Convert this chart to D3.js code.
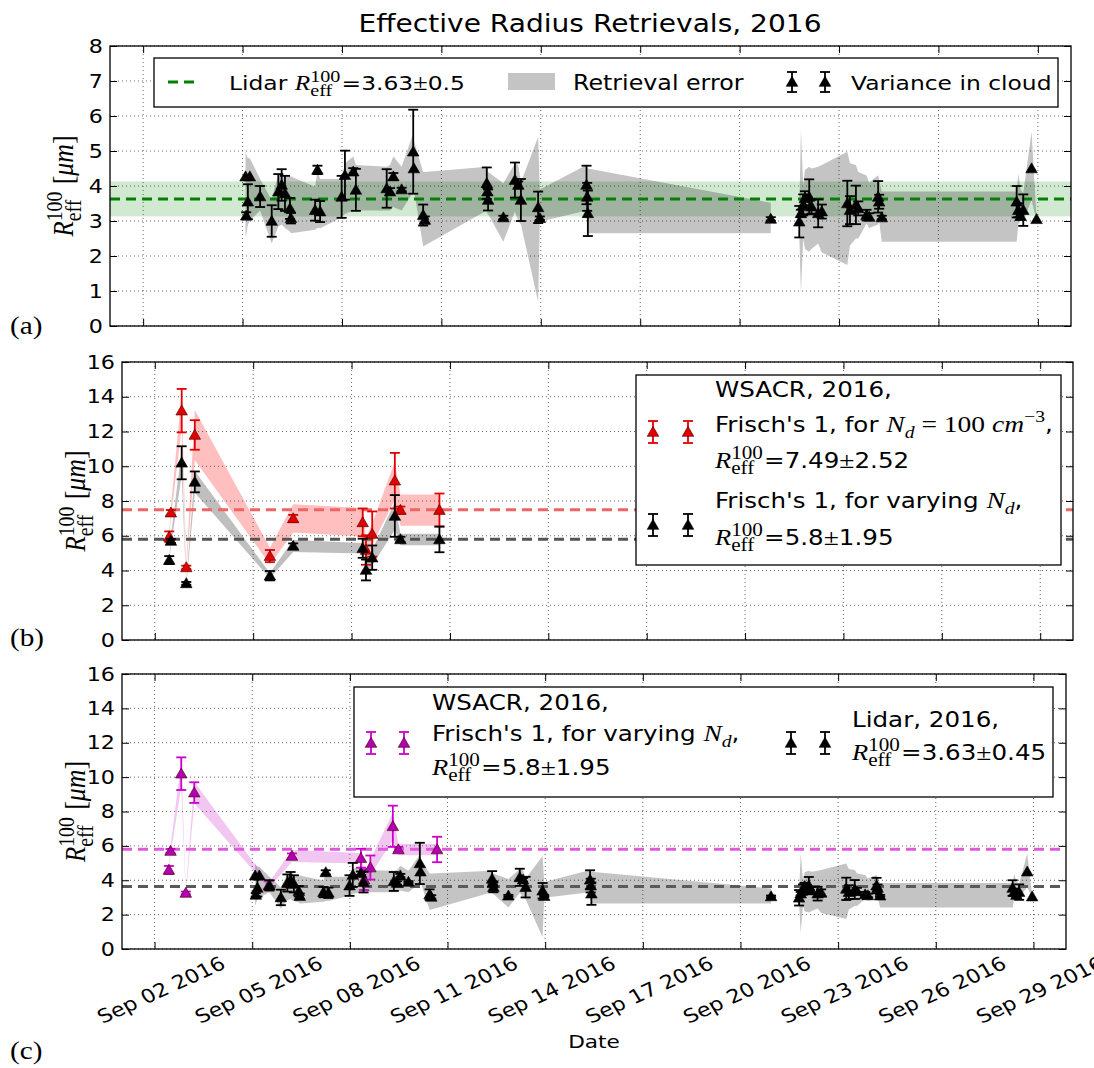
<!DOCTYPE html>
<html><head><meta charset="utf-8">
<script src="https://cdn.jsdelivr.net/npm/d3@7"></script>
<style>body{margin:0;background:#fff}</style>
</head><body>
<svg id="c" width="1094" height="1068"></svg>
<script>
// ---------------- DATA ----------------
const chartTitle = "Effective Radius Retrievals, 2016";
const xTickDays = [2, 5, 8, 11, 14, 17, 20, 23, 26, 29];
const xTickLabels = ["Sep 02 2016","Sep 05 2016","Sep 08 2016","Sep 11 2016","Sep 14 2016","Sep 17 2016","Sep 20 2016","Sep 23 2016","Sep 26 2016","Sep 29 2016"];
const panelLabels = ["(a)", "(b)", "(c)"];

// Lidar retrievals (day of Sep 2016, fractional)
const lidarDay   = [5.09,5.11,5.16,5.22,5.53,5.88,6.08,6.18,6.28,6.43,6.46,7.19,7.26,7.34,7.99,8.09,8.34,8.42,9.35,9.45,9.55,9.80,10.15,10.17,10.45,10.50,12.37,12.39,12.41,12.87,13.22,13.32,13.40,13.92,13.97,15.38,15.40,15.42,20.94,
                    21.80,21.85,21.92,21.97,22.10,22.17,22.37,22.48,23.25,23.33,23.51,23.58,23.83,23.91,24.18,24.21,24.29,28.36,28.41,28.48,28.56,28.81,28.96];
const lidarValue = [4.27,3.15,3.55,4.27,3.70,3.00,3.84,4.03,3.79,3.36,3.08,3.31,4.46,3.27,3.69,4.31,4.41,3.89,3.93,3.84,4.27,3.90,4.98,4.50,3.17,3.03,4.08,3.84,3.60,3.10,4.17,4.03,3.60,3.39,3.08,4.03,3.69,3.22,3.06,
                    2.98,3.22,3.46,3.65,3.69,3.41,3.22,3.27,3.50,3.31,3.46,3.36,3.17,3.12,3.69,3.55,3.10,3.55,3.31,3.14,3.31,4.50,3.05];
const lidarErr   = [0,0.10,0.50,0,0.30,0.45,0.50,0.45,0.50,0.30,0.15,0.30,0.12,0.30,0.60,0.70,0.10,0.60,0.55,0.10,0.10,0.05,1.20,0,0.30,0.10,0.45,0.10,0.30,0.05,0.50,0.10,0.60,0.45,0.05,0.55,0.40,0.65,0.05,
                    0.45,0.10,0.30,0.20,0.50,0.20,0.40,0.20,0.65,0.40,0.55,0.20,0.15,0.10,0.45,0.20,0.05,0.45,0.20,0.10,0.45,0,0];
const lidarBandLo = [2.55,2.60,2.90,3.00,3.30,2.36,2.84,2.90,2.80,2.70,2.65,2.75,2.80,2.79,3.10,3.20,3.30,3.30,3.30,3.30,3.40,3.30,3.83,3.90,2.27,2.30,3.30,3.20,3.20,2.41,3.27,3.00,2.90,0.69,2.98,3.30,2.65,2.65,2.65,
                    2.60,0.94,2.50,2.20,2.12,2.20,2.36,2.10,1.74,2.30,2.50,2.50,2.93,2.80,2.90,3.00,2.41,2.41,2.90,3.00,3.00,3.60,3.00];
const lidarBandHi = [5.03,4.90,4.80,4.79,4.20,3.60,4.36,4.30,4.30,4.30,4.27,3.98,4.46,4.20,4.20,4.65,4.84,4.60,4.55,4.60,4.84,4.55,5.50,5.30,4.40,4.40,4.55,4.50,4.40,4.08,4.65,4.60,4.10,5.41,3.90,4.60,4.55,4.50,3.52,
                    3.30,5.60,4.00,4.46,4.55,4.50,4.55,4.60,4.98,4.65,4.60,4.40,4.30,4.10,4.31,4.20,3.84,3.84,4.36,3.90,3.80,5.55,3.10];
const lidarBandSegment = [0,0,0,0,0,0,0,0,0,0,0,0,0,0,0,0,0,0,0,0,0,0,0,0,0,0,0,0,0,0,0,0,0,0,0,0,0,0,0,
                    1,1,1,1,1,1,1,1,1,1,1,1,1,1,1,1,1,1,1,1,1,1,1];
const lidarMean = 3.63, lidarStdA = 0.5, lidarStdC = 0.45;

// WSACR retrievals
const wsDay        = [2.44,2.49,2.82,2.96,3.22,5.51,6.22,8.34,8.44,8.63,9.32,9.49,10.68];
const wsFixedValue = [5.95,7.33,13.2,4.18,11.8,4.83,7.00,6.77,5.18,6.10,9.17,7.48,7.48];
const wsFixedErr   = [0.30,0.15,1.25,0.10,0.85,0.35,0.20,0.80,0.85,1.30,1.60,0.20,0.95];
const wsFixedBand  = [0.20,0.30,1.00,0.15,1.44,0.48,0.82,0.82,0.70,0.60,1.10,0.90,0.90];
const wsVaryValue  = [4.60,5.70,10.2,3.26,9.10,3.70,5.41,5.28,4.03,4.74,7.14,5.79,5.79];
const wsVaryErr    = [0.23,0.12,0.95,0.08,0.60,0.27,0.15,0.55,0.60,0.70,1.20,0.15,0.74];
const wsVaryBand   = [0.15,0.25,0.75,0.12,0.62,0.15,0.35,0.30,0.40,0.45,0.80,0.33,0.33];
const wsFixedMean = 7.49, wsFixedStd = 2.52, wsVaryMean = 5.8, wsVaryStd = 1.95;

// ---------------- DRAWING ----------------
const SANS = "DejaVu Sans", SERIF = "Liberation Serif";
const SX = 1.17; // horizontal stretch of the original figure's text
const svg = d3.select("#c");
const t0 = Date.UTC(2016, 8, 1);
const toDate = d => new Date(t0 + (d - 1) * 864e5);

const lidar = lidarDay.map((d, i) => ({d, v: lidarValue[i], e: lidarErr[i], lo: lidarBandLo[i], hi: lidarBandHi[i], s: lidarBandSegment[i]}));
const wsFixed = wsDay.map((d, i) => ({d, v: wsFixedValue[i], e: wsFixedErr[i], lo: wsFixedValue[i] - wsFixedBand[i], hi: wsFixedValue[i] + wsFixedBand[i], s: 0}));
const wsVary = wsDay.map((d, i) => ({d, v: wsVaryValue[i], e: wsVaryErr[i], lo: wsVaryValue[i] - wsVaryBand[i], hi: wsVaryValue[i] + wsVaryBand[i], s: 0}));

const layout = [
  {left: 110, right: 1071, top: 46, bottom: 326, yMax: 8, yStep: 1, labelY: 334},
  {left: 122, right: 1073, top: 362, bottom: 640, yMax: 16, yStep: 2, labelY: 646},
  {left: 122, right: 1066, top: 674, bottom: 949, yMax: 16, yStep: 2, labelY: 1059}
];

function stext(g, x, y, str, fs, opts = {}) {
  return g.append("text").attr("transform", `translate(${x},${y}) scale(${SX},1)`)
    .attr("font-family", opts.fam || SANS).attr("font-size", fs).attr("text-anchor", opts.anchor || "start")
    .attr("fill", "#000").text(str);
}

// math-ish text runner (unscaled local coordinates)
function mathLine(g, x, y, parts, fs, transform) {
  const grp = g.append("g");
  const inner = grp.append("g");
  let cx = 0;
  const add = (t, fam, style, size, dy, xx) => inner.append("text").attr("x", xx).attr("y", dy)
      .attr("font-family", fam).attr("font-style", style).attr("font-size", size).attr("fill", "#000")
      .style("white-space", "pre").text(t);
  for (const [t, k] of parts) {
    if (k === "R") {
      const r = add("R", SERIF, "italic", fs * 1.08, 0, cx);
      cx += r.node().getComputedTextLength();
      const sub = add("eff", SERIF, "normal", fs * 0.86, fs * 0.3, cx);
      const sup = add("100", SERIF, "normal", fs * 0.86, -fs * 0.42, cx);
      cx += Math.max(sub.node().getComputedTextLength(), sup.node().getComputedTextLength()) + 1;
    } else {
      let el;
      if (k === "n") el = add(t, SANS, "normal", fs, 0, cx);
      else if (k === "i") el = add(t, SERIF, "italic", fs * 1.12, 0, cx);
      else if (k === "r") el = add(t, SERIF, "normal", fs * 1.12, 0, cx);
      else if (k === "si") el = add(t, SERIF, "italic", fs * 0.8, fs * 0.3, cx);
      else if (k === "sp") el = add(t, SERIF, "normal", fs * 0.8, -fs * 0.48, cx);
      cx += el.node().getComputedTextLength();
    }
  }
  grp.attr("transform", transform || `translate(${x},${y}) scale(${SX},1)`);
  return {grp, inner, width: cx};
}

function errMark(g, x, y, h, color, fill) {
  g.append("line").attr("x1", x).attr("x2", x).attr("y1", y - h).attr("y2", y + h).attr("stroke", color).attr("stroke-width", 1.8);
  [y - h, y + h].forEach(yy => g.append("line").attr("x1", x - 5).attr("x2", x + 5).attr("y1", yy).attr("y2", yy).attr("stroke", color).attr("stroke-width", 1.8));
  g.append("path").attr("d", d3.symbol(d3.symbolTriangle, 58)()).attr("transform", `translate(${x},${y + 1})`)
    .attr("fill", fill).attr("stroke", fill === "#000" ? "#000" : "#400").attr("stroke-width", 0.6);
}

function makePanel(i) {
  const L = layout[i];
  const x = d3.scaleUtc().domain([toDate(1), toDate(30)]).range([L.left, L.right]);
  const y = d3.scaleLinear().domain([0, L.yMax]).range([L.bottom, L.top]);
  const g = svg.append("g");
  const yt = d3.range(0, L.yMax + 0.001, L.yStep);
  const xt = xTickDays.map(toDate);
  const grid = g.append("g").attr("stroke", "#000").attr("stroke-width", 0.8).attr("stroke-dasharray", "1,3").attr("opacity", 0.75);
  yt.forEach(v => grid.append("line").attr("x1", L.left).attr("x2", L.right).attr("y1", y(v)).attr("y2", y(v)));
  xt.forEach(t => grid.append("line").attr("x1", x(t)).attr("x2", x(t)).attr("y1", L.top).attr("y2", L.bottom));
  const plot = g.append("g");
  return {x, y, g, plot, L, yt, xt};
}

function finishPanel(P, i, withXLabels) {
  const {x, y, g, L, yt, xt} = P;
  const ax = g.append("g");
  const left = ax.append("g").attr("transform", `translate(${L.left},0)`)
    .call(d3.axisLeft(y).tickValues(yt).tickSizeInner(-7).tickSizeOuter(0).tickPadding(6).tickFormat(d3.format("d")));
  left.selectAll("text").attr("font-family", SANS).attr("font-size", 19).attr("fill", "#000")
    .attr("transform", `scale(${SX},1)`);
  ax.append("g").attr("transform", `translate(${L.right},0)`)
    .call(d3.axisRight(y).tickValues(yt).tickSizeInner(-7).tickSizeOuter(0).tickFormat(""));
  ax.append("g").attr("transform", `translate(0,${L.top})`)
    .call(d3.axisTop(x).tickValues(xt).tickSizeInner(-7).tickSizeOuter(0).tickFormat(""));
  const bot = ax.append("g").attr("transform", `translate(0,${L.bottom})`)
    .call(d3.axisBottom(x).tickValues(xt).tickSizeInner(-7).tickSizeOuter(0)
      .tickFormat((t, k) => withXLabels ? xTickLabels[k] : ""));
  ax.selectAll(".domain").remove();
  ax.selectAll(".tick line").attr("stroke", "#000").attr("stroke-width", 1);
  if (withXLabels) {
    bot.selectAll("text").attr("font-family", SANS).attr("font-size", 19).attr("fill", "#000")
      .attr("text-anchor", "middle").attr("x", 0).attr("y", 0).attr("dy", "0.35em")
      .attr("transform", `translate(6,41) scale(${SX},1) rotate(-28)`);
  }
  g.append("rect").attr("x", L.left).attr("y", L.top).attr("width", L.right - L.left).attr("height", L.bottom - L.top)
    .attr("fill", "none").attr("stroke", "#000").attr("stroke-width", 1.3);
  // y label
  const lab = mathLine(g, 0, 0, [["", "R"], [" [", "r"], ["μm", "i"], ["]", "r"]], 23);
  const cy = (L.top + L.bottom) / 2;
  lab.inner.attr("transform", `translate(${-lab.width / 2},0)`);
  lab.grp.attr("transform", `translate(${L.left - 37},${cy}) scale(${SX},1) rotate(-90)`);
  // panel label
  stext(g, 10, L.labelY, panelLabels[i], 25, {fam: SERIF});
}

function band(P, data, color, opacity) {
  const area = d3.area().x(d => P.x(toDate(d.d))).y0(d => P.y(d.lo)).y1(d => P.y(d.hi));
  d3.groups(data, d => d.s).forEach(([, seg]) => {
    P.plot.append("path").attr("d", area(seg)).attr("fill", color).attr("fill-opacity", opacity).attr("stroke", "none");
  });
}
function meanLine(P, v, color) {
  P.plot.append("line").attr("x1", P.L.left).attr("x2", P.L.right).attr("y1", P.y(v)).attr("y2", P.y(v))
    .attr("stroke", color).attr("stroke-width", 3).attr("stroke-dasharray", "10,6");
}
function points(P, data, color, fill) {
  const gg = P.plot.append("g");
  data.forEach(d => {
    const cx = P.x(toDate(d.d));
    if (d.e > 0) {
      gg.append("line").attr("x1", cx).attr("x2", cx).attr("y1", P.y(d.v - d.e)).attr("y2", P.y(d.v + d.e)).attr("stroke", color).attr("stroke-width", 1.8);
      [d.v - d.e, d.v + d.e].forEach(v => gg.append("line").attr("x1", cx - 5).attr("x2", cx + 5).attr("y1", P.y(v)).attr("y2", P.y(v)).attr("stroke", color).attr("stroke-width", 1.8));
    }
  });
  data.forEach(d => {
    gg.append("path").attr("d", d3.symbol(d3.symbolTriangle, 58)())
      .attr("transform", `translate(${P.x(toDate(d.d))},${P.y(d.v) + 1})`)
      .attr("fill", fill).attr("stroke", fill === "#000" ? "#000" : "#400").attr("stroke-width", 0.6);
  });
}

// title
stext(svg, 590, 32, chartTitle, 24, {anchor: "middle"});

// ---- panel a ----
const A = makePanel(0);
A.plot.append("rect").attr("x", A.L.left).attr("width", A.L.right - A.L.left)
  .attr("y", A.y(lidarMean + lidarStdA)).attr("height", A.y(lidarMean - lidarStdA) - A.y(lidarMean + lidarStdA))
  .attr("fill", "#008000").attr("fill-opacity", 0.18);
band(A, lidar, "#000", 0.23);
meanLine(A, lidarMean, "#008000");
points(A, lidar, "#000", "#000");
finishPanel(A, 0, false);
{
  const g = A.g;
  g.append("rect").attr("x", 154).attr("y", 58).attr("width", 904).attr("height", 49).attr("fill", "#fff").attr("stroke", "#000").attr("stroke-width", 1.3);
  g.append("line").attr("x1", 168).attr("x2", 198).attr("y1", 82).attr("y2", 82).attr("stroke", "#008000").attr("stroke-width", 3).attr("stroke-dasharray", "10,6");
  mathLine(g, 229, 90, [["Lidar ", "n"], ["", "R"], ["=3.63", "n"], ["±", "r"], ["0.5", "n"]], 20);
  g.append("rect").attr("x", 508).attr("y", 73).attr("width", 47).attr("height", 17).attr("fill", "#000").attr("fill-opacity", 0.23);
  stext(g, 573, 90, "Retrieval error", 20.3);
  errMark(g, 792, 82, 10, "#000", "#000");
  errMark(g, 825, 82, 10, "#000", "#000");
  stext(g, 851, 90, "Variance in cloud", 20);
}

// ---- panel b ----
const B = makePanel(1);
band(B, wsFixed, "#ff0000", 0.25);
band(B, wsVary, "#000", 0.25);
meanLine(B, wsFixedMean, "#f06464");
meanLine(B, wsVaryMean, "#555");
points(B, wsFixed, "#e00000", "#e00000");
points(B, wsVary, "#000", "#000");
finishPanel(B, 1, false);
{
  const g = B.g;
  g.append("rect").attr("x", 636).attr("y", 375).attr("width", 425).attr("height", 190).attr("fill", "#fff").attr("stroke", "#000").attr("stroke-width", 1.3);
  errMark(g, 653, 432, 11, "#e00000", "#e00000");
  errMark(g, 688, 432, 11, "#e00000", "#e00000");
  mathLine(g, 715, 397, [["WSACR, 2016,", "n"]], 21);
  mathLine(g, 715, 432, [["Frisch's 1, for ", "n"], ["N", "i"], ["d", "si"], [" = 100 ", "r"], ["cm", "i"], ["−3", "sp"], [",", "n"]], 21);
  mathLine(g, 715, 468, [["", "R"], ["=7.49", "n"], ["±", "r"], ["2.52", "n"]], 21);
  errMark(g, 653, 525, 11, "#000", "#000");
  errMark(g, 688, 525, 11, "#000", "#000");
  mathLine(g, 715, 508, [["Frisch's 1, for varying ", "n"], ["N", "i"], ["d", "si"], [",", "n"]], 21);
  mathLine(g, 715, 545, [["", "R"], ["=5.8", "n"], ["±", "r"], ["1.95", "n"]], 21);
}

// ---- panel c ----
const C = makePanel(2);
band(C, lidar, "#000", 0.23);
band(C, wsVary, "#bf00bf", 0.22);
meanLine(C, wsVaryMean, "#dd5add");
meanLine(C, lidarMean, "#5a5a5a");
points(C, wsVary, "#cc00cc", "#b000b0");
points(C, lidar, "#000", "#000");
finishPanel(C, 2, true);
{
  const g = C.g;
  g.append("rect").attr("x", 354).attr("y", 687).attr("width", 699).attr("height", 110).attr("fill", "#fff").attr("stroke", "#000").attr("stroke-width", 1.3);
  errMark(g, 371, 743, 11, "#cc00cc", "#b000b0");
  errMark(g, 404, 743, 11, "#cc00cc", "#b000b0");
  mathLine(g, 432, 710, [["WSACR, 2016,", "n"]], 21);
  mathLine(g, 432, 741, [["Frisch's 1, for varying ", "n"], ["N", "i"], ["d", "si"], [",", "n"]], 21);
  mathLine(g, 432, 775, [["", "R"], ["=5.8", "n"], ["±", "r"], ["1.95", "n"]], 21);
  errMark(g, 791, 743, 11, "#000", "#000");
  errMark(g, 825, 743, 11, "#000", "#000");
  mathLine(g, 852, 727, [["Lidar, 2016,", "n"]], 21);
  mathLine(g, 852, 760, [["", "R"], ["=3.63", "n"], ["±", "r"], ["0.45", "n"]], 21);
}
stext(svg, 594, 1048, "Date", 18.5, {anchor: "middle"});
</script>
</body></html>
